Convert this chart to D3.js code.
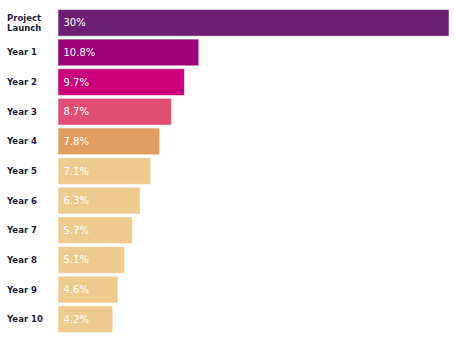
<!DOCTYPE html>
<html>
<head>
<meta charset="utf-8">
<script src="https://cdn.jsdelivr.net/npm/d3@7"></script>
<style>
  body { margin: 0; background: #fff; }
  svg { display: block; }
</style>
</head>
<body>
<svg id="chart"></svg>
<script>
// Share of total by period
const categories = ['Project Launch', 'Year 1', 'Year 2', 'Year 3', 'Year 4', 'Year 5',
    'Year 6', 'Year 7', 'Year 8', 'Year 9', 'Year 10'];
const values = [30, 10.8, 9.7, 8.7, 7.8, 7.1, 6.3, 5.7, 5.1, 4.6, 4.2];
const barColors = ['#6d1f74', '#9b0078', '#c9007a', '#e04f72', '#e19c5f', '#edcb8e',
    '#edcb8e', '#edcb8e', '#edcb8e', '#edcb8e', '#edcb8e'];

const width = 454, height = 339;
const margin = { top: 8, right: 6, bottom: 5, left: 58 };
const innerHeight = height - margin.top - margin.bottom;

const svg = d3.select('#chart')
    .attr('width', width)
    .attr('height', height);

const g = svg.append('g')
    .attr('transform', `translate(${margin.left},${margin.top})`);

const xScale = d3.scaleLinear()
    .domain([0, 30])
    .range([0, 391]);

const yScale = d3.scaleBand()
    .domain(categories)
    .range([0, innerHeight])
    .paddingInner(0.1)
    .paddingOuter(0.05);

// Bars
g.selectAll('.bar')
    .data(categories)
    .join('rect')
    .attr('class', 'bar')
    .attr('x', 0)
    .attr('y', d => yScale(d))
    .attr('width', (d, i) => xScale(values[i]))
    .attr('height', yScale.bandwidth())
    .attr('fill', (d, i) => barColors[i])
    .attr('stroke', 'rgba(255,255,255,0.5)')
    .attr('stroke-width', 1);

// Value labels inside bars
g.selectAll('.bar-label')
    .data(categories)
    .join('text')
    .attr('class', 'bar-label')
    .attr('x', 5.5)
    .attr('y', d => yScale(d) + yScale.bandwidth() / 2)
    .attr('dy', '0.35em')
    .attr('fill', '#fff')
    .attr('font-family', 'DejaVu Sans, sans-serif')
    .attr('font-size', '10px')
    .text((d, i) => values[i] + '%');

// Category labels on the left
const labels = svg.append('g')
    .selectAll('text')
    .data(categories)
    .join('text')
    .attr('x', 7)
    .attr('y', d => margin.top + yScale(d) + yScale.bandwidth() / 2)
    .attr('fill', '#1d1d3b')
    .attr('font-family', 'DejaVu Sans, sans-serif')
    .attr('font-weight', 'bold')
    .attr('font-size', '8.5px');

labels.each(function (d) {
    const words = d === 'Project Launch' ? ['Project', 'Launch'] : [d];
    const t = d3.select(this);
    words.forEach((w, j) => {
        t.append('tspan')
            .attr('x', 7)
            .attr('dy', j === 0 ? (words.length === 1 ? '0.35em' : '-0.25em') : '1.25em')
            .text(w);
    });
});
</script>
</body>
</html>
